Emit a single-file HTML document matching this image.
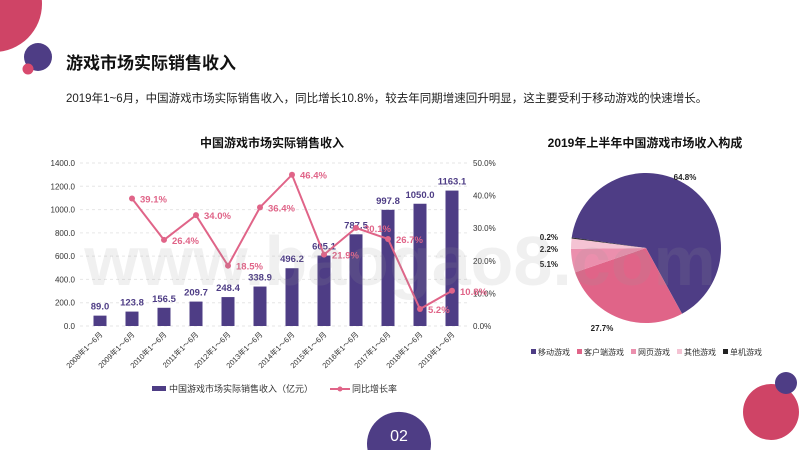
<!DOCTYPE html>
<html><head><meta charset="utf-8"><style>
html,body{margin:0;width:800px;height:450px;overflow:hidden;background:#fff;font-family:"Liberation Sans","Noto Sans CJK SC",sans-serif;position:relative}
svg{display:block}
</style></head><body>
<svg width="800" height="450" style="position:absolute;left:0;top:0">
<circle cx="-6" cy="4" r="48" fill="#cf4466"/>
<circle cx="38" cy="57" r="14" fill="#4e3d85"/>
<circle cx="28" cy="69" r="5.5" fill="#d84a6e"/>
<circle cx="771" cy="412" r="28" fill="#cf4466"/>
<circle cx="786" cy="383" r="11" fill="#4e3d85"/>
<path d="M367.6,450 A32,32 0 1,1 430.4,450 Z" fill="#4e3d85"/>
<text x="399" y="441" font-size="16" fill="#fff" text-anchor="middle">02</text>
<text x="66" y="69" font-size="17" font-weight="bold" fill="#111" font-family="Liberation Sans,Noto Sans CJK SC,sans-serif">游戏市场实际销售收入</text>
<text x="66" y="102" font-size="11.5" fill="#222" font-family="Liberation Sans,Noto Sans CJK SC,sans-serif">2019年1~6月，中国游戏市场实际销售收入，同比增长10.8%，较去年同期增速回升明显，这主要受利于移动游戏的快速增长。</text>
<text x="272" y="147" font-size="12" font-weight="bold" fill="#111" text-anchor="middle" font-family="Liberation Sans,Noto Sans CJK SC,sans-serif">中国游戏市场实际销售收入</text>
<text x="645" y="147" font-size="12" font-weight="bold" fill="#111" text-anchor="middle" font-family="Liberation Sans,Noto Sans CJK SC,sans-serif">2019年上半年中国游戏市场收入构成</text>
<g id="bar"></g><g id="pie"></g>
<text x="400" y="285" font-size="70" font-weight="bold" fill="#999" opacity="0.14" text-anchor="middle">www.baogao8.com</text>
</svg>
<script>
const years=["2008","2009","2010","2011","2012","2013","2014","2015","2016","2017","2018","2019"];
const revenue=[89.0,123.8,156.5,209.7,248.4,338.9,496.2,605.1,787.5,997.8,1050.0,1163.1];
const growth=[null,39.1,26.4,34.0,18.5,36.4,46.4,21.9,30.1,26.7,5.2,10.8];
const leftTicks=[0,200,400,600,800,1000,1200,1400];
const rightTicks=[0,10,20,30,40,50];
const pieLabels=["移动游戏","客户端游戏","网页游戏","其他游戏","单机游戏"];
const pieValues=[64.8,27.7,5.1,2.2,0.2];
const pieColors=["#4e3d85","#e06488","#eb8fad","#f4c3d3","#222"];
const NS="http://www.w3.org/2000/svg";
function mk(t,a,p){const e=document.createElementNS(NS,t);for(const k in a)e.setAttribute(k,a[k]);p.appendChild(e);return e;}
const g=document.getElementById('bar');
const y0=326,y1=163,x0=84,step=32;
const yL=v=>y0-(v/1400)*(y0-y1), yR=v=>y0-(v/50)*(y0-y1), xC=i=>x0+16+i*step;
leftTicks.forEach(t=>{const l=mk('line',{x1:80,x2:468,y1:yL(t),y2:yL(t),stroke:'#e6e6e6','stroke-dasharray':'3,3'},g);

const tx=mk('text',{x:75,y:yL(t)+3,'font-size':8,'text-anchor':'end',fill:'#333'},g);tx.textContent=t.toFixed(1);
});
rightTicks.forEach(t=>{const tx=mk('text',{x:473,y:yR(t)+3,'font-size':8,fill:'#333'},g);tx.textContent=t.toFixed(1)+'%';
});
revenue.forEach((v,i)=>{const r=mk('rect',{x:xC(i)-6.5,y:yL(v),width:13,height:y0-yL(v),fill:'#4e3d85'},g);

const t=mk('text',{x:xC(i),y:yL(v)-6,'font-size':9.5,'font-weight':'bold','text-anchor':'middle',fill:'#4e3d85'},g);t.textContent=v.toFixed(1);

const xl=mk('text',{x:0,y:0,'font-size':7.5,'text-anchor':'end',fill:'#333',transform:`translate(${xC(i)+3},${y0+9}) rotate(-45)`},g);xl.textContent=years[i]+'年1～6月';
});
let pts=[];growth.forEach((v,i)=>{if(v!=null)pts.push([xC(i),yR(v),v]);});
const pl=mk('polyline',{points:pts.map(p=>p[0]+','+p[1]).join(' '),fill:'none',stroke:'#e06488','stroke-width':2},g);

pts.forEach(p=>{const c=mk('circle',{cx:p[0],cy:p[1],r:3,fill:'#e06488'},g);
const t=mk('text',{x:p[0]+8,y:p[1]+4,'font-size':9.5,'font-weight':'bold',fill:'#e06488'},g);t.textContent=p[2].toFixed(1)+'%';
});
const lr=mk('rect',{x:152,y:386,width:14,height:5,fill:'#4e3d85'},g);
const lt=mk('text',{x:169,y:392,'font-size':9,fill:'#333'},g);lt.textContent='中国游戏市场实际销售收入（亿元）';
const ll=mk('line',{x1:330,x2:350,y1:389,y2:389,stroke:'#e06488','stroke-width':2},g);
const lc=mk('circle',{cx:340,cy:389,r:2.5,fill:'#e06488'},g);
const lt2=mk('text',{x:352,y:392,'font-size':9,fill:'#333'},g);lt2.textContent='同比增长率';
const pg=document.getElementById('pie');const cx=646,cy=248,R=75;
const total=pieValues.reduce((a,b)=>a+b,0);let a=188*Math.PI/180;
const lblPos=[[685,180],[602,331],[558,267],[558,252],[558,240]];
pieValues.forEach((v,i)=>{const da=v/total*2*Math.PI,a2=a+da;
const d=`M${cx},${cy} L${cx+R*Math.cos(a)},${cy+R*Math.sin(a)} A${R},${R} 0 ${da>Math.PI?1:0} 1 ${cx+R*Math.cos(a2)},${cy+R*Math.sin(a2)} Z`;
const p=mk('path',{d:d,fill:pieColors[i]},pg);a=a2;
const t=mk('text',{x:lblPos[i][0],y:lblPos[i][1],'font-size':8,'font-weight':'bold',fill:'#222','text-anchor':i>1?'end':'middle'},pg);t.textContent=v.toFixed(1)+'%';
});
let lx=531;pieLabels.forEach((s,i)=>{const r=mk('rect',{x:lx,y:349,width:5,height:5,fill:pieColors[i]},pg);
const t=mk('text',{x:lx+7,y:355,'font-size':8,fill:'#333'},pg);t.textContent=s;lx+=10+s.length*8+4;});
</script>
</body></html>
